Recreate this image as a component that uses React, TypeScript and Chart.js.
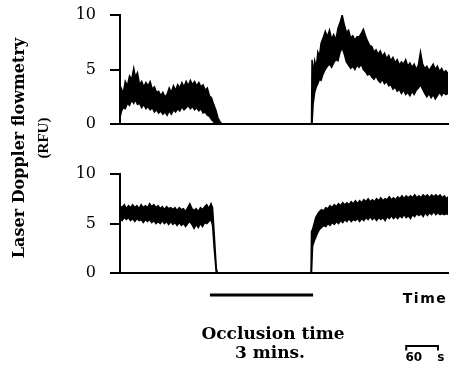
import React, { useEffect, useRef } from "react";
import { Chart, registerables } from "chart.js";

Chart.register(...registerables);

// y tick values (both panels)
const yTicks = [0, 5, 10];

// time (s), upper and lower envelope of the LDF trace — top panel
const topT = [
  0, 3, 6, 10, 14, 18, 22, 26, 29, 33, 37, 41, 45, 49, 53, 57, 61, 65, 69, 73,
  77, 81, 85, 89, 93, 97, 101, 105, 109, 113, 117, 121, 125, 129, 133, 137, 141, 145, 149, 153,
  157, 161, 165, 169, 173, 177, 181, 185, 189, 193,
  362, 363, 365, 368, 371, 374, 377, 380, 384, 388, 392, 396, 400, 404, 408, 412, 416, 420, 424, 428,
  432, 436, 440, 444, 448, 452, 456, 460, 464, 468, 472, 476, 480, 484, 488, 492, 496, 500, 504, 508,
  512, 516, 520, 524, 528, 532, 536, 540, 544, 548, 552, 556, 560, 564, 568, 572, 576, 580, 584, 588,
  592, 596, 600, 604, 608, 612, 616, 620,
];
const topHi = [
  2.0, 3.2, 2.8, 3.9, 3.5, 4.4, 4.1, 5.1, 4.3, 4.7, 3.6, 3.9, 3.4, 3.8, 3.5, 3.9, 3.2, 3.4, 2.9, 3.0,
  2.6, 2.9, 2.5, 2.7, 3.3, 2.9, 3.5, 3.1, 3.6, 3.3, 3.8, 3.4, 3.9, 3.5, 4.0, 3.6, 3.9, 3.5, 3.8, 3.4,
  3.6, 3.1, 3.3, 2.6, 2.4, 1.8, 1.3, 0.6, 0.2, 0,
  0, 5.9, 4.6, 5.8, 5.2, 6.6, 6.2, 7.4, 7.9, 8.5, 8.0, 8.6, 7.8, 8.2, 7.7, 8.8, 9.3, 10.0, 9.1, 8.4,
  8.6, 7.9, 8.1, 7.7, 8.0, 8.0, 8.3, 8.7, 8.1, 7.6, 7.2, 7.1, 6.6, 6.8, 6.4, 6.7, 6.2, 6.5, 6.0, 6.3,
  5.8, 6.1, 5.6, 5.9, 5.4, 5.7, 5.5, 5.9, 5.3, 5.6, 5.2, 5.5, 5.0, 5.4, 6.6, 5.5, 5.1, 5.3, 4.9, 5.2,
  5.5, 5.0, 5.3, 4.8, 5.1, 4.7, 4.9, 4.6,
];
const topLo = [
  0.6, 1.2, 1.5, 1.4, 1.9, 1.7, 2.2, 1.9, 2.3, 1.8, 1.9, 1.5, 1.8, 1.4, 1.6, 1.3, 1.5, 1.1, 1.3, 1.0,
  1.2, 0.9, 1.1, 0.8, 1.2, 0.9, 1.3, 1.1, 1.4, 1.2, 1.6, 1.3, 1.5, 1.7, 1.4, 1.6, 1.3, 1.5, 1.2, 1.4,
  1.0, 1.1, 0.8, 0.7, 0.4, 0.2, 0.05, 0, 0, 0,
  0, 0, 1.8, 2.9, 3.4, 3.7, 4.1, 4.0, 4.6, 5.0, 5.3, 5.5, 5.2, 5.6, 5.9, 5.8, 6.6, 7.0, 6.4, 5.7,
  5.4, 5.1, 5.3, 5.0, 5.4, 5.2, 5.5, 5.0, 4.8, 4.5, 4.6, 4.3, 4.1, 4.4, 4.0, 3.8, 4.1, 3.7, 3.9, 3.5,
  3.6, 3.2, 3.4, 3.0, 3.2, 2.8, 3.1, 2.7, 2.9, 2.6, 3.0, 2.7, 3.1, 3.3, 3.6, 3.2, 2.8, 2.5, 2.8, 2.4,
  2.7, 2.3, 2.6, 2.9, 2.6, 2.9, 2.7, 2.8,
];

// bottom panel
const botT = [
  0, 4, 8, 12, 16, 20, 24, 28, 32, 36, 40, 44, 48, 52, 56, 60, 64, 68, 72, 76,
  80, 84, 88, 92, 96, 100, 104, 108, 112, 116, 120, 124, 128, 132, 136, 140, 144, 148, 152, 156,
  160, 164, 168, 172, 175, 178, 182, 184,
  361, 362, 364, 367, 370, 373, 377, 381, 385, 389, 393, 397, 401, 405, 409, 413, 417, 421, 425, 429,
  433, 437, 441, 445, 449, 453, 457, 461, 465, 469, 473, 477, 481, 485, 489, 493, 497, 501, 505, 509,
  513, 517, 521, 525, 529, 533, 537, 541, 545, 549, 553, 557, 561, 565, 569, 573, 577, 581, 585, 589,
  593, 597, 601, 605, 609, 613, 617, 620,
];
const botHi = [
  6.8, 6.6, 6.9, 6.5, 6.8, 6.6, 6.9, 6.6, 6.8, 6.5, 6.9, 6.6, 6.8, 6.6, 7.0, 6.7, 6.9, 6.6, 6.8, 6.5,
  6.7, 6.4, 6.7, 6.5, 6.6, 6.4, 6.6, 6.3, 6.6, 6.4, 6.5, 6.2, 6.6, 7.0, 6.5, 6.3, 6.5, 6.2, 6.6, 6.4,
  6.7, 6.9, 6.5, 7.0, 6.6, 4.0, 0.5, 0,
  0, 4.2, 4.4, 5.0, 5.6, 5.9, 6.2, 6.4, 6.3, 6.6, 6.5, 6.8, 6.6, 6.9, 6.7, 7.0, 6.8, 7.1, 6.9, 7.1,
  6.9, 7.2, 7.0, 7.3, 7.0, 7.3, 7.1, 7.4, 7.2, 7.5, 7.2, 7.4, 7.2, 7.5, 7.3, 7.6, 7.3, 7.5, 7.4, 7.7,
  7.4, 7.6, 7.4, 7.7, 7.5, 7.8, 7.5, 7.8, 7.6, 7.8, 7.6, 7.9, 7.6, 7.8, 7.6, 7.9, 7.7, 7.9, 7.6, 7.9,
  7.7, 7.9, 7.7, 7.9, 7.6, 7.8, 7.5, 7.7,
];
const botLo = [
  5.5, 5.3, 5.6, 5.4, 5.6, 5.3, 5.5, 5.2, 5.5, 5.3, 5.4, 5.1, 5.4, 5.2, 5.4, 5.1, 5.3, 5.0, 5.2, 5.0,
  5.3, 5.0, 5.2, 4.9, 5.2, 4.9, 5.1, 4.8, 5.1, 4.8, 5.0, 4.7, 5.0, 5.2, 4.9, 4.5, 4.9, 4.6, 5.0, 4.7,
  5.1, 5.0, 5.2, 5.4, 4.8, 2.5, 0, 0,
  0, 0, 2.7, 3.2, 3.6, 4.0, 4.4, 4.6, 4.8, 4.7, 5.0, 4.8, 5.1, 4.9, 5.2, 5.0, 5.3, 5.1, 5.4, 5.2,
  5.5, 5.2, 5.4, 5.3, 5.5, 5.2, 5.5, 5.3, 5.6, 5.4, 5.7, 5.4, 5.6, 5.3, 5.6, 5.4, 5.6, 5.3, 5.7, 5.5,
  5.8, 5.5, 5.7, 5.5, 5.8, 5.6, 5.9, 5.6, 5.8, 5.5, 5.9, 5.7, 6.0, 5.8, 6.0, 5.7, 6.1, 5.8, 6.1, 5.9,
  6.2, 5.9, 6.1, 5.9, 6.0, 5.9, 6.0, 5.9,
];

// occlusion interval and 60 s scale bar (seconds)
const occlusion = [170, 365];
const scaleBar = [541, 601];
const xRange = [0, 620];

function makeConfig(t: number[], hi: number[], lo: number[], padTop: number, xHeight: number, plugins: any[]) {
  const up = t.map((v, i) => ({ x: v, y: hi[i] }));
  const down = t.map((v, i) => ({ x: v, y: lo[i] }));
  return {
    type: "line",
    data: {
      datasets: [
        { data: up, borderColor: "#000", backgroundColor: "#000", borderWidth: 1.5, pointRadius: 0, tension: 0, fill: "+1" },
        { data: down, borderColor: "#000", backgroundColor: "#000", borderWidth: 1.5, pointRadius: 0, tension: 0, fill: false },
      ],
    },
    options: {
      responsive: false,
      animation: false,
      events: [],
      layout: { padding: { top: padTop, right: 5, left: 0, bottom: 0 } },
      plugins: { legend: { display: false }, tooltip: { enabled: false } },
      scales: {
        x: {
          type: "linear",
          min: xRange[0],
          max: xRange[1],
          ticks: { display: false },
          grid: { display: false },
          border: { display: true, color: "#000", width: 2 },
          afterFit: (s: any) => { s.height = xHeight; s.paddingLeft = 0; s.paddingRight = 0; },
        },
        y: {
          min: 0,
          max: 10,
          afterBuildTicks: (s: any) => { s.ticks = yTicks.map((v) => ({ value: v })); },
          ticks: { color: "#000", padding: 14, font: { family: "'DejaVu Serif', serif", size: 16 } },
          grid: { display: true, drawOnChartArea: false, drawTicks: true, tickLength: 10, color: "#000", lineWidth: 2 },
          border: { display: true, color: "#000", width: 2 },
          afterFit: (s: any) => { s.width = 120; s.paddingTop = 0; s.paddingBottom = 0; },
        },
      },
    },
    plugins,
  } as any;
}

const barsPlugin = {
  id: "bars",
  afterDraw(chart: any) {
    const ctx = chart.ctx;
    const x = chart.scales.x;
    ctx.save();
    ctx.fillStyle = "#000";
    const o1 = x.getPixelForValue(occlusion[0]);
    const o2 = x.getPixelForValue(occlusion[1]);
    ctx.fillRect(o1, 143.5, o2 - o1, 3);
    const b1 = x.getPixelForValue(scaleBar[0]);
    const b2 = x.getPixelForValue(scaleBar[1]);
    ctx.strokeStyle = "#000";
    ctx.lineWidth = 2;
    ctx.beginPath();
    ctx.moveTo(b1, 200.5);
    ctx.lineTo(b1, 196);
    ctx.lineTo(b2, 196);
    ctx.lineTo(b2, 200.5);
    ctx.stroke();
    ctx.restore();
  },
};

export default function App() {
  const topRef = useRef<HTMLCanvasElement>(null);
  const botRef = useRef<HTMLCanvasElement>(null);

  useEffect(() => {
    const c1 = new Chart(topRef.current as any, makeConfig(topT, topHi, topLo, 15, 16, []));
    const c2 = new Chart(botRef.current as any, makeConfig(botT, botHi, botLo, 24, 94, [barsPlugin]));
    return () => {
      c1.destroy();
      c2.destroy();
    };
  }, []);

  const serifBold = "'DejaVu Serif', serif";
  const sansBold = "'DejaVu Sans', sans-serif";
  const abs = (l: number, t: number): React.CSSProperties => ({
    position: "absolute",
    left: l,
    top: t,
    transform: "translate(-50%, -50%)",
    whiteSpace: "nowrap",
    color: "#000",
    lineHeight: 1,
  });

  return (
    <div style={{ position: "fixed", left: 0, top: 0, width: 453, height: 367, background: "#fff", overflow: "hidden" }}>
      <canvas ref={topRef} width={453} height={140} style={{ position: "absolute", left: 0, top: 0, width: 453, height: 140 }} />
      <canvas ref={botRef} width={453} height={217} style={{ position: "absolute", left: 0, top: 150, width: 453, height: 217 }} />
      <div style={{ ...abs(19, 148), transform: "translate(-50%, -50%) rotate(-90deg)", fontFamily: serifBold, fontWeight: "bold", fontSize: 16 }}>
        Laser Doppler flowmetry
      </div>
      <div style={{ ...abs(43, 138), transform: "translate(-50%, -50%) rotate(-90deg)", fontFamily: "'Liberation Serif', serif", fontWeight: "bold", fontSize: 15 }}>
        (RFU)
      </div>
      <div style={{ ...abs(273, 333), fontFamily: serifBold, fontWeight: "bold", fontSize: 17 }}>Occlusion time</div>
      <div style={{ ...abs(270, 352), fontFamily: serifBold, fontWeight: "bold", fontSize: 17 }}>3 mins.</div>
      <div style={{ ...abs(425, 298), fontFamily: sansBold, fontWeight: "bold", fontSize: 14, letterSpacing: 1.5 }}>Time</div>
      <div style={{ ...abs(425, 357), fontFamily: sansBold, fontWeight: "bold", fontSize: 12, wordSpacing: 11 }}>60 s</div>
    </div>
  );
}
